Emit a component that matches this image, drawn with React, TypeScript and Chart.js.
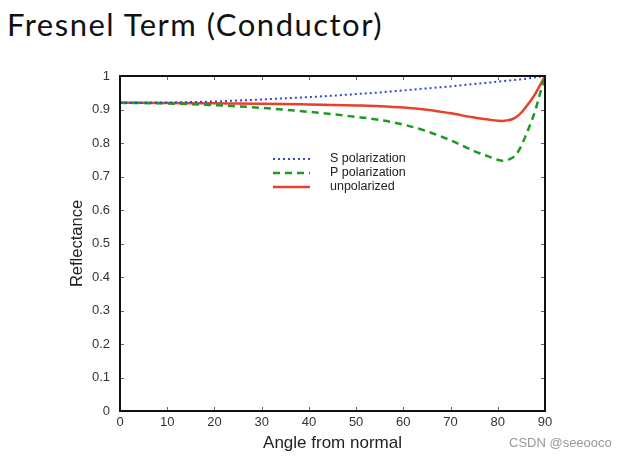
import React, { useEffect, useRef } from "react";
import { Chart, registerables } from "chart.js";

Chart.register(...registerables);

const angles = [0, 10, 20, 30, 40, 50, 55, 60, 65, 70, 75, 78, 80, 81, 82, 83, 84, 85, 86, 87, 88, 89, 90];
const sPolarization = [0.92, 0.921, 0.924, 0.93, 0.937, 0.946, 0.951, 0.957, 0.963, 0.969, 0.976, 0.98, 0.983, 0.9845, 0.986, 0.9875, 0.989, 0.9905, 0.992, 0.994, 0.996, 0.998, 1.0];
const pPolarization = [0.92, 0.918, 0.913, 0.905, 0.893, 0.878, 0.869, 0.855, 0.835, 0.808, 0.776, 0.76, 0.75, 0.747, 0.749, 0.755, 0.768, 0.792, 0.825, 0.86, 0.9, 0.95, 1.0];
const unpolarized = [0.92, 0.9195, 0.9185, 0.9175, 0.915, 0.912, 0.91, 0.906, 0.899, 0.8885, 0.876, 0.87, 0.8665, 0.866, 0.8675, 0.871, 0.8785, 0.891, 0.9085, 0.927, 0.948, 0.974, 1.0];
const xTicks = [0, 10, 20, 30, 40, 50, 60, 70, 80, 90];
const yTicks = [0, 0.1, 0.2, 0.3, 0.4, 0.5, 0.6, 0.7, 0.8, 0.9, 1];

const seriesLabels = ["S polarization", "P polarization", "unpolarized"];
const FONT = "'Liberation Sans', Arial, Helvetica, sans-serif";

const boxPlugin = {
  id: "boxAndLegend",
  afterDatasetsDraw(chart: any) {
    const { ctx, chartArea, scales } = chart;
    const { left, right, top, bottom } = chartArea;
    ctx.save();
    // inward ticks
    ctx.strokeStyle = "#666";
    ctx.lineWidth = 1;
    const tl = 4;
    xTicks.forEach((v) => {
      const x = Math.round(scales.x.getPixelForValue(v)) + 0.5;
      ctx.beginPath();
      ctx.moveTo(x, bottom);
      ctx.lineTo(x, bottom - tl);
      ctx.moveTo(x, top);
      ctx.lineTo(x, top + tl);
      ctx.stroke();
    });
    yTicks.forEach((v) => {
      const y = Math.round(scales.y.getPixelForValue(v)) + 0.5;
      ctx.beginPath();
      ctx.moveTo(left, y);
      ctx.lineTo(left + tl, y);
      ctx.moveTo(right, y);
      ctx.lineTo(right - tl, y);
      ctx.stroke();
    });
    // box
    ctx.strokeStyle = "#111";
    ctx.lineWidth = 2;
    ctx.strokeRect(left, top, right - left, bottom - top);

    // legend
    const ds = chart.data.datasets;
    const lx0 = scales.x.getPixelForValue(0) + (right - left) * 0.36;
    const ly0 = top + 83;
    const rowH = 14;
    ds.forEach((d: any, i: number) => {
      const y = ly0 + i * rowH;
      ctx.beginPath();
      ctx.strokeStyle = d.borderColor;
      ctx.lineWidth = d.borderWidth;
      ctx.setLineDash(d.borderDash || []);
      ctx.moveTo(lx0, y);
      ctx.lineTo(lx0 + 37, y);
      ctx.stroke();
      ctx.setLineDash([]);
      ctx.fillStyle = "#222";
      ctx.font = "12.5px " + FONT;
      ctx.textAlign = "left";
      ctx.textBaseline = "middle";
      ctx.fillText(d.label, lx0 + 57, y);
    });
    ctx.restore();
  },
};

export default function App() {
  const ref = useRef<HTMLCanvasElement>(null);
  useEffect(() => {
    if (!ref.current) return;
    const chart = new Chart(ref.current, {
      type: "line",
      data: {
        datasets: [
          {
            label: seriesLabels[0],
            data: angles.map((a, i) => ({ x: a, y: sPolarization[i] })),
            borderColor: "#3347d6",
            borderWidth: 2,
            borderDash: [2, 3],
            pointRadius: 0,
            cubicInterpolationMode: "monotone",
          },
          {
            label: seriesLabels[1],
            data: angles.map((a, i) => ({ x: a, y: pPolarization[i] })),
            borderColor: "#1e9a22",
            borderWidth: 2.5,
            borderDash: [7, 5],
            pointRadius: 0,
            cubicInterpolationMode: "monotone",
          },
          {
            label: seriesLabels[2],
            data: angles.map((a, i) => ({ x: a, y: unpolarized[i] })),
            borderColor: "#e8402a",
            borderWidth: 2.5,
            pointRadius: 0,
            cubicInterpolationMode: "monotone",
          },
        ],
      },
      options: {
        animation: false,
        responsive: false,
        layout: { padding: { top: 76, right: 75, left: 0, bottom: 0 } },
        plugins: { legend: { display: false }, tooltip: { enabled: false }, title: { display: false } },
        scales: {
          x: {
            type: "linear",
            min: 0,
            max: 90,
            afterBuildTicks: (s: any) => {
              s.ticks = xTicks.map((v) => ({ value: v }));
            },
            afterFit: (s: any) => {
              s.height = 47;
            },
            grid: { display: false, drawTicks: false },
            border: { display: false },
            ticks: {
              padding: 4,
              color: "#333",
              font: { family: FONT, size: 13 },
              maxRotation: 0,
              callback: (v: any) => String(v),
            },
            title: {
              display: true,
              text: "Angle from normal",
              color: "#222",
              font: { family: FONT, size: 17 },
              padding: { top: 0, bottom: 4 },
            },
          },
          y: {
            type: "linear",
            min: 0,
            max: 1,
            afterBuildTicks: (s: any) => {
              s.ticks = yTicks.map((v) => ({ value: v }));
            },
            afterFit: (s: any) => {
              s.width = 120;
            },
            grid: { display: false, drawTicks: false },
            border: { display: false },
            ticks: {
              padding: 10,
              color: "#333",
              font: { family: FONT, size: 13 },
              callback: (v: any) => String(Math.round(v * 10) / 10),
            },
            title: {
              display: true,
              text: "Reflectance",
              color: "#222",
              font: { family: FONT, size: 16.5 },
              padding: { top: 68, bottom: 0 },
            },
          },
        },
      },
      plugins: [boxPlugin],
    } as any);
    return () => chart.destroy();
  }, []);

  return (
    <div style={{ position: "fixed", left: 0, top: 0, width: 620, height: 458, background: "#fff" }}>
      <div
        style={{
          position: "absolute",
          left: 7,
          top: 5,
          fontFamily: "Lato, 'Open Sans', sans-serif",
          fontSize: 31,
          letterSpacing: 1.5,
          color: "#111",
          whiteSpace: "nowrap",
        }}
      >
        Fresnel Term (Conductor)
      </div>
      <canvas ref={ref} width={620} height={458} style={{ position: "absolute", left: 0, top: 0 }} />
      <div
        style={{
          position: "absolute",
          left: 509,
          top: 435,
          fontFamily: "'Liberation Sans', Arial, sans-serif",
          fontSize: 13,
          color: "#999",
          whiteSpace: "nowrap",
        }}
      >
        CSDN @seeooco
      </div>
    </div>
  );
}
